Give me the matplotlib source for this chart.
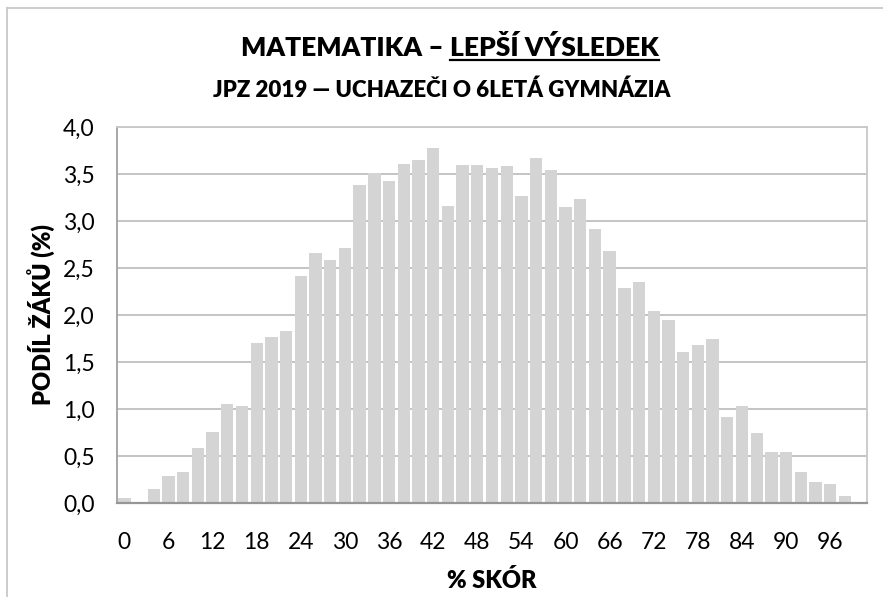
import matplotlib.pyplot as plt
from matplotlib.lines import Line2D

# data
skore = list(range(0, 101, 2))
podil = [0.05, 0.01, 0.15, 0.29, 0.33, 0.59, 0.76, 1.05, 1.03, 1.70,
         1.77, 1.83, 2.41, 2.66, 2.59, 2.71, 3.38, 3.51, 3.43, 3.61,
         3.65, 3.78, 3.16, 3.60, 3.60, 3.56, 3.58, 3.27, 3.67, 3.54,
         3.15, 3.23, 2.91, 2.68, 2.29, 2.35, 2.04, 1.95, 1.61, 1.68,
         1.75, 0.91, 1.03, 0.75, 0.54, 0.54, 0.33, 0.22, 0.20, 0.07,
         0.0]
x_ticks = list(range(0, 97, 6))
y_ticks = [0.0, 0.5, 1.0, 1.5, 2.0, 2.5, 3.0, 3.5, 4.0]

plt.rcParams['font.family'] = ['Lato', 'DejaVu Sans']

W, H = 883, 597
fig = plt.figure(figsize=(W / 100, H / 100), dpi=100)

# plot area in pixels (left, top, right, bottom)
L, T, R, B = 117, 127, 867, 503
ax = fig.add_axes([L / W, 1 - B / H, (R - L) / W, (B - T) / H])

ax.bar(skore, podil, width=1.68, color='#d4d4d4', zorder=2)
ax.set_xlim(-1, 101)
ax.set_ylim(0, 4.0)
ax.set_xticks(x_ticks)
ax.set_xticklabels([str(v) for v in x_ticks])
ax.set_yticks(y_ticks)
ax.set_yticklabels([f'{v:.1f}'.replace('.', ',') for v in y_ticks])
ax.tick_params(axis='both', length=0, labelsize=16.5, colors='black')
ax.tick_params(axis='y', pad=16)
ax.tick_params(axis='x', pad=21)
ax.yaxis.grid(True, color='#bfbfbf', linewidth=1.3, zorder=1)
ax.set_axisbelow(True)
for side in ['top', 'right']:
    ax.spines[side].set_color('#c8c8c8')
    ax.spines[side].set_linewidth(1.3)
ax.spines['left'].set_color('#a0a0a0')
ax.spines['left'].set_linewidth(1.3)
ax.spines['bottom'].set_color('#969696')
ax.spines['bottom'].set_linewidth(1.6)

fig.text(42 / W, 1 - 315 / H, 'PODÍL ŽÁKŮ (%)', rotation=90, ha='center', va='center',
         fontsize=17, fontweight='heavy')
fig.text(492 / W, 1 - 580 / H, '% SKÓR', ha='center', va='center',
         fontsize=17, fontweight='heavy')

# title in two parts, second one underlined
renderer = fig.canvas.get_renderer()
ty = 1 - 48 / H
t1 = fig.text(0, ty, 'MATEMATIKA –', ha='left', va='center', fontsize=19, fontweight='heavy')
t2 = fig.text(0, ty, 'LEPŠÍ VÝSLEDEK', ha='left', va='center', fontsize=19, fontweight='heavy')
w1 = t1.get_window_extent(renderer).width
w2 = t2.get_window_extent(renderer).width
sp = 7
x0 = 450 - (w1 + sp + w2) / 2
t1.set_x(x0 / W)
t2.set_x((x0 + w1 + sp) / W)
bb = t2.get_window_extent(renderer)
uy = (bb.y0 + 1) / H
fig.add_artist(Line2D([bb.x0 / W, bb.x1 / W], [uy, uy], color='black', linewidth=1.6))

fig.text(442 / W, 1 - 90 / H, 'JPZ 2019 — UCHAZEČI O 6LETÁ GYMNÁZIA', ha='center', va='center',
         fontsize=16, fontweight='heavy')

# outer chart border (left and top only visible)
fig.add_artist(Line2D([7 / W, 7 / W], [0, 1 - 8 / H], color='#c8c8c8', linewidth=1.3))
fig.add_artist(Line2D([7 / W, 1], [1 - 8 / H, 1 - 8 / H], color='#c8c8c8', linewidth=1.3))

fig.savefig('out.png', dpi=100)
